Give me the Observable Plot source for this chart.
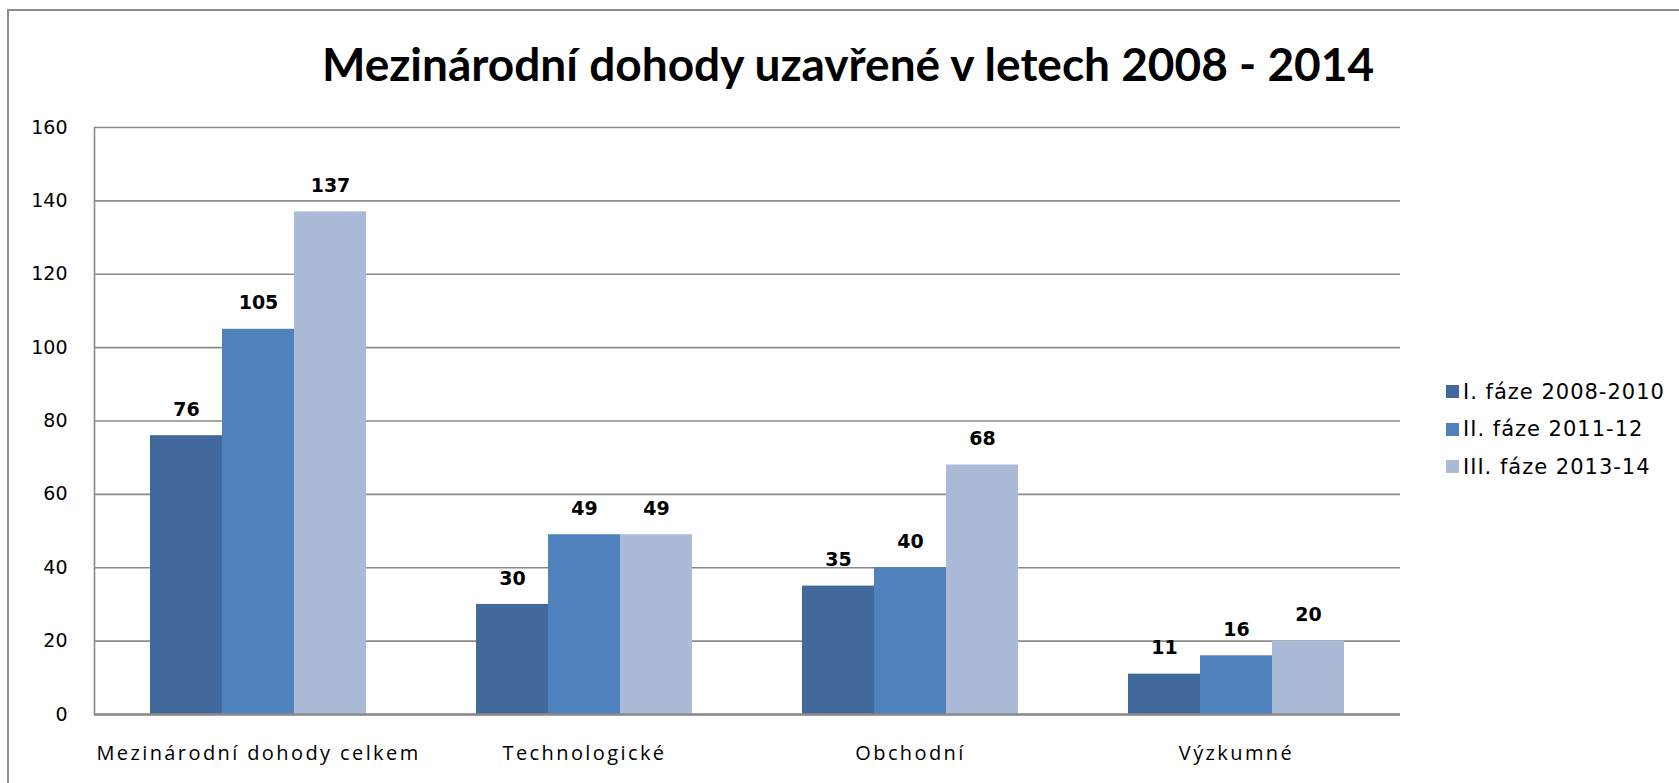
<!DOCTYPE html>
<html>
<head>
<meta charset="utf-8">
<script src="https://cdn.jsdelivr.net/npm/d3@7"></script>
<script src="https://cdn.jsdelivr.net/npm/@observablehq/plot@0.6"></script>
<style>
  html, body { margin: 0; padding: 0; background: #fff; }
  #wrap { position: relative; width: 1679px; height: 783px; overflow: hidden; background: #fff; }
  #border { position: absolute; left: 7px; top: 9px; right: -10px; bottom: -10px; border-top: 2.5px solid #8c8c8c; border-left: 2.5px solid #8c8c8c; }
  .layer { position: absolute; left: 0; top: 0; }
  #title { position: absolute; left: 0; width: 1696px; top: 36px; text-align: center; font-family: Lato, sans-serif; font-weight: 700; font-size: 46px; color: #000; white-space: nowrap; }
  #legend { position: absolute; left: 1446px; top: 373px; font-family: "DejaVu Sans", sans-serif; font-size: 21px; letter-spacing: 1px; color: #000; }
  .row { display: flex; align-items: center; height: 37.5px; white-space: nowrap; }
  .sw { width: 13px; height: 13px; margin-right: 4px; }
</style>
</head>
<body>
<div id="wrap">
  <div id="border"></div>
  <div id="grid" class="layer"></div>
  <div id="chart" class="layer"></div>
  <div id="title"></div>
  <div id="legend"></div>
</div>
<script>
const titleText = "Mezinárodní dohody uzavřené v letech 2008 - 2014";
const categories = ["Mezinárodní dohody celkem", "Technologické", "Obchodní", "Výzkumné"];
const series = ["I. fáze 2008-2010", "II. fáze 2011-12", "III. fáze 2013-14"];
const phase1 = [76, 30, 35, 11];
const phase2 = [105, 49, 40, 16];
const phase3 = [137, 49, 68, 20];
const colors = ["#41699C", "#4F81BD", "#AABAD7"];
const yTicks = [0, 20, 40, 60, 80, 100, 120, 140, 160];

const seriesValues = [phase1, phase2, phase3];
const data = categories.flatMap((c, i) =>
  series.map((s, j) => ({category: c, series: s, value: seriesValues[j][i]}))
);

const common = {
  width: 1679,
  height: 783,
  marginTop: 127,
  marginBottom: 69,
  marginLeft: 94,
  marginRight: 279,
  style: {background: "transparent", fontFamily: "DejaVu Sans", fontSize: "19px", color: "#000"},
  y: {domain: [0, 160], axis: null}
};

// Background layer: gridlines, left axis line, y tick labels
const grid = Plot.plot({
  ...common,
  marks: [
    Plot.ruleY(yTicks, {stroke: "#8a8a8a", strokeWidth: 1.6}),
    Plot.frame({anchor: "left", stroke: "#8a8a8a", strokeWidth: 1.6}),
    Plot.text(yTicks, {y: d => d, text: d => String(d), frameAnchor: "left",
      textAnchor: "end", dx: -27, fontSize: 19, fontFamily: "DejaVu Sans", fill: "#000"})
  ]
});
document.getElementById("grid").appendChild(grid);

// Foreground layer: grouped bars, value labels, category axis
const chart = Plot.plot({
  ...common,
  fx: {domain: categories, paddingInner: 0.33, paddingOuter: 0.165, label: null, axis: null},
  x: {domain: series, padding: 0, axis: null},
  color: {domain: series, range: colors},
  marks: [
    Plot.barY(data, {fx: "category", x: "series", y: "value", fill: "series"}),
    Plot.text(data, {fx: "category", x: "series", y: "value", text: d => String(d.value), dy: -26,
      fontWeight: "bold", fontSize: 19, fontFamily: "DejaVu Sans", fill: "#000"}),
    Plot.axisFx({domain: categories, anchor: "bottom", tickSize: 0, tickPadding: 31, fontSize: 20, fontFamily: "Open Sans", label: null, fill: "#000"})
  ]
});
document.getElementById("chart").appendChild(chart);
d3.select(chart).selectAll('g[aria-label="fx-axis tick label"] text').style("letter-spacing", "2.4px");

// Baseline drawn over bars
const base = Plot.plot({
  ...common,
  marks: [Plot.ruleY([0], {stroke: "#8a8a8a", strokeWidth: 2.5})]
});
const baseDiv = document.createElement("div");
baseDiv.className = "layer";
baseDiv.appendChild(base);
document.getElementById("wrap").appendChild(baseDiv);

document.getElementById("title").textContent = titleText;
const legend = d3.select("#legend");
series.forEach((s, i) => {
  const row = legend.append("div").attr("class", "row");
  row.append("div").attr("class", "sw").style("background", colors[i]);
  row.append("span").text(s);
});
</script>
</body>
</html>
